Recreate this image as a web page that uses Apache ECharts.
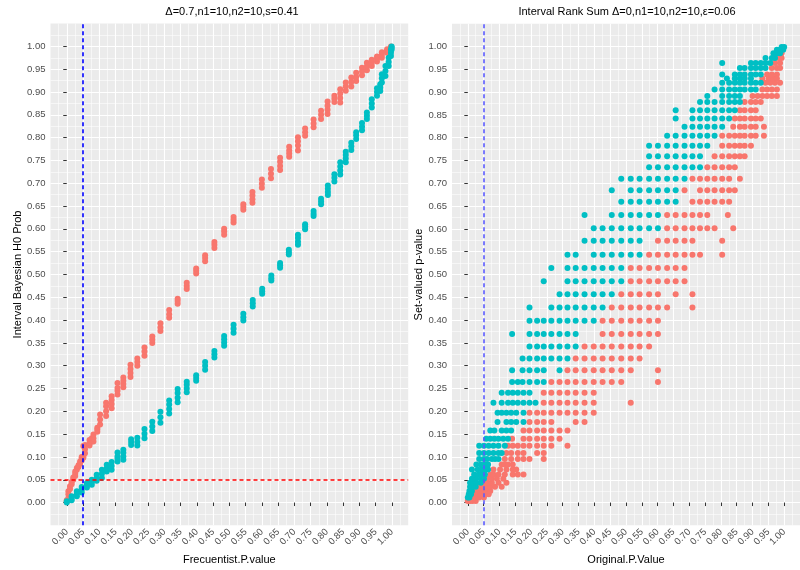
<!DOCTYPE html>
<html>
<head>
<meta charset="utf-8">
<script src="https://cdn.jsdelivr.net/npm/echarts@6/dist/echarts.min.js"></script>
<style>html,body{margin:0;padding:0;background:#fff}#c{width:800px;height:570px}</style>
</head>
<body>
<div id="c"></div>
<script>
// ---------- tick labels ----------
var tickValues = [0.00,0.05,0.10,0.15,0.20,0.25,0.30,0.35,0.40,0.45,0.50,0.55,0.60,0.65,0.70,0.75,0.80,0.85,0.90,0.95,1.00];

// ---------- left panel: clusters (x, list of y) ----------
var leftRedX = [0.000,0.005,0.010,0.015,0.020,0.026,0.031,0.036,0.041,0.046,0.051,0.056,0.070,0.077,0.082,0.094,0.1025,0.121,0.138,0.156,0.174,0.196,0.217,0.239,0.263,0.288,0.315,0.341,0.369,0.398,0.4255,0.454,0.484,0.513,0.543,0.571,0.600,0.628,0.656,0.684,0.711,0.733,0.759,0.782,0.802,0.823,0.841,0.858,0.875,0.890,0.908,0.923,0.938,0.954,0.969,0.985,0.997];
var leftRedY = [
 [0.002,0.005],[0.010,0.018,0.025],[0.030,0.036],[0.040,0.045],[0.050,0.055],[0.058,0.063,0.068],
 [0.072,0.076],[0.078,0.082],[0.085,0.090],[0.092,0.097,0.100],[0.098,0.101,0.124],[0.108,0.117,0.126],
 [0.125,0.130,0.137],[0.134,0.141],[0.134,0.141,0.149],[0.155,0.160,0.164],[0.171,0.182,0.193],
 [0.190,0.200,0.211,0.219],[0.207,0.216,0.225,0.233],[0.237,0.245,0.251,0.262],[0.253,0.260,0.267,0.274],
 [0.275,0.284,0.293,0.302],[0.300,0.308,0.316],[0.322,0.331,0.340],[0.350,0.357,0.364],[0.376,0.384,0.393],
 [0.405,0.413,0.422],[0.436,0.442,0.447],[0.468,0.475,0.482],[0.502,0.508,0.513],[0.529,0.536,0.542],
 [0.558,0.565,0.571],[0.587,0.594,0.600],[0.614,0.620,0.626],[0.642,0.648,0.654],[0.657,0.665,0.673,0.681],
 [0.690,0.699,0.708],[0.711,0.721,0.731],[0.729,0.738,0.747,0.756],[0.758,0.765,0.772,0.780],
 [0.772,0.783,0.792,0.801],[0.804,0.812,0.820],[0.823,0.831,0.840],[0.841,0.850,0.859],[0.852,0.861,0.870,0.879],
 [0.878,0.885,0.892],[0.877,0.887,0.897,0.906],[0.903,0.912,0.921],[0.912,0.922,0.932],[0.924,0.933,0.942],
 [0.937,0.945,0.953],[0.948,0.956,0.964],[0.957,0.964,0.971],[0.967,0.973,0.978],[0.975,0.981,0.987],
 [0.986,0.990,0.994],[0.994,0.998,1.000]
];
var leftTealX = [0.000,0.015,0.031,0.046,0.062,0.077,0.092,0.108,0.123,0.138,0.156,0.174,0.198,0.217,0.239,0.263,0.288,0.315,0.341,0.369,0.398,0.4255,0.454,0.484,0.513,0.543,0.572,0.601,0.629,0.656,0.683,0.711,0.733,0.759,0.782,0.803,0.823,0.841,0.858,0.875,0.890,0.908,0.923,0.938,0.954,0.964,0.969,0.980,0.990,0.997,0.999];
var leftTealY = [
 [0.000,0.003],[0.005,0.009,0.014],[0.014,0.019,0.025],[0.022,0.028,0.034],[0.033,0.038,0.043],
 [0.039,0.045,0.050],[0.048,0.054,0.061],[0.054,0.063,0.072],[0.068,0.075,0.083],[0.072,0.080,0.089],
 [0.090,0.096,0.101,0.110],[0.094,0.101,0.109,0.116],[0.126,0.133,0.139],[0.125,0.133,0.142],
 [0.141,0.151,0.161],[0.157,0.167,0.177],[0.175,0.187,0.199],[0.195,0.205,0.215,0.224],
 [0.220,0.230,0.240,0.249],[0.242,0.250,0.258,0.265],[0.267,0.273,0.279],[0.291,0.300,0.308],
 [0.318,0.325,0.332],[0.344,0.351,0.358,0.365],[0.372,0.381,0.390],[0.399,0.406,0.414],[0.430,0.437,0.444],
 [0.458,0.463,0.469],[0.487,0.492,0.498],[0.515,0.520,0.525],[0.544,0.549,0.554],[0.565,0.572,0.580,0.587],
 [0.599,0.605,0.610],[0.628,0.633,0.639],[0.654,0.660,0.666],[0.674,0.681,0.688,0.695],[0.704,0.712,0.720],
 [0.719,0.728,0.737,0.746],[0.746,0.754,0.762,0.769],[0.773,0.781,0.789],[0.797,0.805,0.812],
 [0.816,0.824,0.832],[0.841,0.848,0.855],[0.866,0.875,0.884],[0.892,0.900,0.908],[0.902,0.910,0.917],
 [0.921,0.930,0.939],[0.935,0.946,0.957],[0.957,0.966,0.975],[0.979,0.986,0.993],[0.993,0.997,1.000]
];

// ---------- right panel: rows (y, list of x) ----------
var rightRowY = [0.0036,0.0109,0.0181,0.0254,0.0348,0.0435,0.0522,0.0616,0.0725,0.0833,0.0957,0.1087,0.1246,0.1399,0.158,0.1768,0.1971,0.2188,0.2406,0.2645,0.2899,0.316,0.342,0.3696,0.3986,0.4275,0.4565,0.4855,0.5145,0.5435,0.5739,0.6014,0.6304,0.6594,0.6848,0.7101,0.7355,0.7594,0.7826,0.8043,0.8239,0.842,0.8601,0.8783,0.8913,0.9058,0.9203,0.93,0.9384,0.9529,0.9638,0.9746,0.985,0.993,0.999];
var rightTealX = [
 [],[0.000,0.005],[0.003,0.010],[0.005,0.013],[0.007,0.015,0.025],[0.007,0.017,0.027,0.041],
 [0.013,0.025,0.041,0.051],[0.020,0.034,0.044,0.054],[0.013,0.031,0.044,0.056,0.064],[0.027,0.041,0.054,0.064],
 [0.036,0.051,0.061,0.076,0.086,0.097],[0.036,0.051,0.066,0.081,0.097,0.107],[0.036,0.051,0.066,0.081,0.097,0.117],
 [0.058,0.071,0.084,0.097,0.112,0.127],[0.071,0.084,0.107,0.122,0.137],[0.094,0.122,0.137,0.153,0.176],
 [0.094,0.107,0.122,0.137,0.153,0.176],[0.081,0.107,0.127,0.142,0.158,0.176,0.195,0.214],
 [0.107,0.127,0.142,0.158,0.176,0.195],[0.140,0.158,0.173,0.195,0.219,0.240],[0.140,0.173,0.195,0.219,0.240,0.290],
 [0.173,0.195,0.219,0.240,0.264,0.290,0.315],[0.195,0.219,0.240,0.264,0.290,0.315,0.341],
 [0.140,0.195,0.219,0.240,0.264,0.290,0.315,0.341],[0.195,0.219,0.240,0.264,0.290,0.315,0.341,0.369,0.398],
 [0.195,0.264,0.290,0.315,0.341,0.369,0.398,0.426],[0.290,0.315,0.341,0.369,0.398,0.426,0.455],
 [0.240,0.315,0.341,0.369,0.398,0.426,0.455,0.485],[0.264,0.315,0.341,0.369,0.398,0.426,0.455,0.485],
 [0.315,0.341,0.398,0.426,0.455,0.485,0.515,0.543],[0.369,0.398,0.426,0.455,0.485,0.515,0.543],
 [0.398,0.426,0.455,0.485,0.515,0.543,0.573,0.601],[0.369,0.455,0.485,0.515,0.543,0.573,0.601],
 [0.485,0.515,0.543,0.573,0.601,0.630,0.657],[0.455,0.515,0.543,0.573,0.601,0.630,0.657],
 [0.485,0.515,0.543,0.573,0.601,0.630,0.657,0.685],[0.573,0.601,0.630,0.657,0.685,0.710,0.734],
 [0.573,0.601,0.630,0.657,0.685,0.710,0.734],[0.573,0.601,0.630,0.657,0.685,0.710,0.734,0.757],
 [0.630,0.657,0.685,0.710,0.734,0.757,0.780],[0.685,0.710,0.734,0.757,0.780,0.804],
 [0.657,0.710,0.734,0.757,0.780,0.804,0.826],[0.657,0.710,0.734,0.757,0.780,0.804,0.826,0.844],
 [0.734,0.757,0.780,0.804,0.826,0.844,0.860],[0.757,0.804,0.826,0.844,0.860],
 [0.780,0.804,0.826,0.844,0.860,0.875,0.895,0.910],[0.804,0.826,0.844,0.860,0.875,0.895,0.910,0.926],
 [0.819,0.844,0.860,0.875,0.895],[0.804,0.844,0.860,0.875,0.895,0.910,0.926],
 [0.860,0.875,0.895,0.910,0.926,0.941],[0.804,0.895,0.910,0.926,0.941,0.956],[0.941,0.961,0.971],
 [0.966,0.977,0.987],[0.977,0.987,0.997],[0.992,1.000]
];
var rightRedX = [
 [0.000,0.007,0.015,0.025],[0.010,0.020,0.036,0.051],[0.017,0.027,0.041,0.054,0.066],[0.020,0.031,0.044,0.056,0.071],
 [0.036,0.046,0.058,0.071,0.086,0.107],[0.051,0.061,0.076,0.097,0.122],[0.061,0.076,0.092,0.112],
 [0.071,0.081,0.097,0.117,0.142,0.158,0.176],[0.081,0.102,0.122,0.142,0.153],[0.107,0.117,0.127,0.142],
 [0.117,0.137,0.158,0.176,0.195,0.240],[0.122,0.137,0.158,0.176,0.219,0.240],
 [0.127,0.142,0.158,0.176,0.195,0.219,0.240,0.264,0.315],[0.140,0.176,0.195,0.219,0.240,0.264,0.290],
 [0.176,0.195,0.219,0.240,0.264,0.290,0.315],[0.195,0.219,0.240,0.264,0.341,0.369],
 [0.195,0.219,0.240,0.264,0.290,0.315,0.341,0.369,0.398],[0.240,0.264,0.290,0.315,0.341,0.369,0.398,0.515],
 [0.240,0.264,0.290,0.315,0.341,0.369,0.398],[0.264,0.290,0.315,0.341,0.369,0.398,0.426,0.455,0.485,0.601],
 [0.315,0.341,0.369,0.398,0.426,0.455,0.485,0.515,0.601],[0.341,0.369,0.398,0.426,0.455,0.485,0.515,0.543],
 [0.369,0.398,0.426,0.455,0.485,0.515,0.543,0.573],[0.426,0.455,0.485,0.515,0.543,0.573,0.601],
 [0.426,0.455,0.485,0.515,0.543,0.573,0.601],[0.455,0.485,0.515,0.543,0.573,0.601,0.630,0.710],
 [0.485,0.515,0.543,0.573,0.601,0.657,0.710],[0.515,0.543,0.573,0.601,0.630,0.657,0.685],
 [0.515,0.543,0.573,0.601,0.630,0.657,0.685],[0.573,0.601,0.630,0.657,0.685,0.710,0.734,0.804],
 [0.601,0.630,0.657,0.685,0.710,0.804],[0.630,0.657,0.685,0.710,0.734,0.757,0.780,0.839],
 [0.630,0.657,0.685,0.710,0.734,0.757,0.822],[0.710,0.734,0.757,0.780,0.804,0.826],
 [0.685,0.734,0.757,0.780,0.804,0.826,0.844],[0.710,0.734,0.757,0.780,0.804,0.826,0.860],
 [0.757,0.780,0.804,0.826,0.844],[0.780,0.804,0.826,0.844,0.860,0.875],[0.804,0.826,0.844,0.860,0.875,0.895],
 [0.804,0.826,0.844,0.860,0.875,0.895,0.910,0.936],[0.839,0.860,0.875,0.895,0.910,0.936],
 [0.844,0.860,0.875,0.895,0.910,0.926],[0.860,0.875,0.895,0.910],[0.875,0.895,0.910,0.926],
 [0.900,0.916,0.931,0.946,0.961,0.977],[0.931,0.946,0.961,0.977],[0.941,0.956,0.971,0.987],
 [0.931,0.951,0.966,0.977],[0.946,0.961,0.977],[0.961,0.977,0.987],[0.971,0.987],[0.982,0.992],[0.992],[],[]
];

// ---------- build point lists ----------
function clusters(xs, ys){ var o=[]; xs.forEach(function(x,i){ ys[i].forEach(function(y){ o.push([x,y]); }); }); return o; }
function rows(ys, xs){ var o=[]; ys.forEach(function(y,i){ xs[i].forEach(function(x){ o.push([x,y]); }); }); return o; }

var RED = '#F8766D', TEAL = '#00BFC4';
var FONT = '"Liberation Sans", Arial, Helvetica, sans-serif';

function xAxis(idx, name){
  return {
    gridIndex: idx, type:'value', min:-0.05, max:1.05, interval:0.05,
    axisLine:{show:false},
    axisTick:{show:true, length:3.5, customValues: tickValues, lineStyle:{color:'#333333', width:1}},
    axisLabel:{customValues: tickValues, rotate:45, margin:5, color:'#4D4D4D', fontSize:9.5, fontFamily:FONT,
               formatter:function(v){ return v.toFixed(2); }},
    splitLine:{show:true, lineStyle:{color:'#FFFFFF', width:1.1}},
    minorTick:{show:false, splitNumber:2},
    minorSplitLine:{show:true, lineStyle:{color:'#FFFFFF', width:0.55}},
    name:name, nameLocation:'middle', nameGap:27,
    nameTextStyle:{color:'#000', fontSize:11, fontFamily:FONT}
  };
}
function yAxis(idx, name, gap){
  return {
    gridIndex: idx, type:'value', min:-0.05, max:1.05, interval:0.05,
    axisLine:{show:false},
    axisTick:{show:true, length:3.5, customValues: tickValues, lineStyle:{color:'#333333', width:1}},
    axisLabel:{customValues: tickValues, margin:5, color:'#4D4D4D', fontSize:9.5, fontFamily:FONT,
               formatter:function(v){ return v.toFixed(2); }},
    splitLine:{show:true, lineStyle:{color:'#FFFFFF', width:1.1}},
    minorTick:{show:false, splitNumber:2},
    minorSplitLine:{show:true, lineStyle:{color:'#FFFFFF', width:0.55}},
    name:name, nameLocation:'middle', nameGap:gap, nameRotate:90,
    nameTextStyle:{color:'#000', fontSize:11, fontFamily:FONT}
  };
}
function pts(name, data, color, xi){
  return {name:name, type:'scatter', xAxisIndex:xi, yAxisIndex:xi, data:data, symbol:'circle', symbolSize:6,
          itemStyle:{color:color, opacity:1}, silent:true, animation:false, z:2};
}
function refLine(xi, spec, color){
  spec.lineStyle = {type:[4,3], color:color, width:1.6, opacity:1};
  return {type:'line', xAxisIndex:xi, yAxisIndex:xi, data:[], z:5, silent:true, animation:false,
          color: color, itemStyle:{color:color}, lineStyle:{color:color},
          markLine:{silent:true, symbol:'none', animation:false, label:{show:false},
                    lineStyle:{type:[4,3], color:color, width:1.6, opacity:1},
                    emphasis:{disabled:true}, data:[spec]}};
}

var chart = echarts.init(document.getElementById('c'), null, {renderer:'canvas'});
chart.setOption({
  animation:false,
  backgroundColor:'#FFFFFF',
  textStyle:{fontFamily:FONT},
  grid:[
    {left:50.5, top:23.6, width:357.7, height:507.8, show:true, backgroundColor:'#EBEBEB', borderWidth:0},
    {left:452, top:23.7, width:360.5, height:506, show:true, backgroundColor:'#EBEBEB', borderWidth:0}
  ],
  xAxis:[ xAxis(0,'Frecuentist.P.value'), xAxis(1,'Original.P.Value') ],
  yAxis:[ yAxis(0,'Interval Bayesian H0 Prob',27), yAxis(1,'Set-valued p-value',24.5) ],
  graphic:[
    {type:'text', x:232, y:12, style:{text:'\u0394=0.7,n1=10,n2=10,s=0.41', textAlign:'center', textVerticalAlign:'middle', fontSize:11, fontFamily:FONT, fill:'#000'}},
    {type:'text', x:627, y:12, style:{text:'Interval Rank Sum \u0394=0,n1=10,n2=10,\u03b5=0.06', textAlign:'center', textVerticalAlign:'middle', fontSize:11, fontFamily:FONT, fill:'#000'}}
  ],
  series:[
    pts('leftRed', clusters(leftRedX, leftRedY), RED, 0),
    pts('leftTeal', clusters(leftTealX, leftTealY), TEAL, 0),
    pts('rightRed', rows(rightRowY, rightRedX), RED, 1),
    pts('rightTeal', rows(rightRowY, rightTealX), TEAL, 1),
    refLine(0, {xAxis:0.05}, '#0000FF'),
    refLine(0, {yAxis:0.05}, '#FF0000'),
    refLine(1, {xAxis:0.05}, '#5B5BFF')
  ]
});
</script>
</body>
</html>
